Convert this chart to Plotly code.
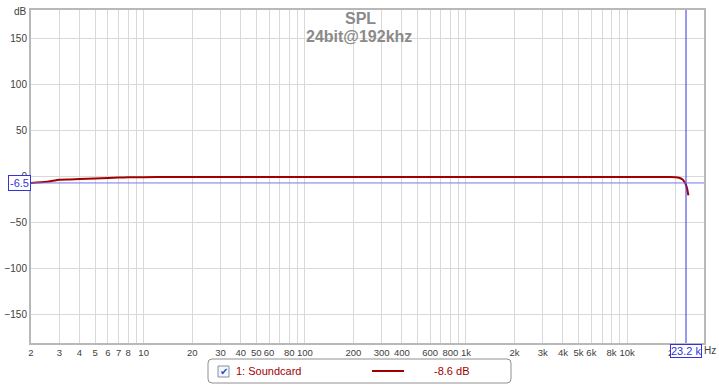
import math
import plotly.graph_objects as go

# ---- data ----
freq_hz = [2, 2.5, 3, 3.5, 4, 5, 6, 7, 8, 10, 15, 20, 50, 100, 1000, 3000, 4000,
           10000, 15000, 18000, 20000, 21000, 22000, 22500, 23200, 23600, 24000]
spl_db = [-6.5, -5.3, -3.0, -2.7, -2.3, -1.6, -1.1, -0.6, -0.4, -0.2, -0.1, 0.0, 0.0,
          0.0, 0.0, 0.0, 0.0, 0.0, 0.0, -0.1, -0.2, -0.8, -2.5, -4.5, -8.6, -13.0, -20.0]
series_name = "1: Soundcard"
cursor_freq = 23200
cursor_db = -6.5
cursor_value_text = "-8.6 dB"
title_lines = ["SPL", "24bit@192khz"]

x_tick_vals = [2, 3, 4, 5, 6, 7, 8, 9, 10, 20, 30, 40, 50, 60, 70, 80, 90, 100,
               200, 300, 400, 500, 600, 700, 800, 900, 1000,
               2000, 3000, 4000, 5000, 6000, 7000, 8000, 9000, 10000, 20000, 30000]
x_tick_text = ["2", "3", "4", "5", "6", "7", "8", "", "10", "20", "30", "40", "50", "60", "", "80", "", "100",
               "200", "300", "400", "", "600", "", "800", "", "1k",
               "2k", "3k", "4k", "5k", "6k", "", "8k", "", "10k", "20k", ""]
y_tick_vals = [-150, -100, -50, 0, 50, 100, 150]

RED = "#a00000"
BLUE = "#3333dd"
GRID = "#d9d9d9"
TXT = "#404040"
FONT = "Liberation Sans"

fig = go.Figure()
fig.add_trace(go.Scatter(x=freq_hz, y=spl_db, mode="lines",
                         line=dict(color=RED, width=2, shape="spline", smoothing=0.6),
                         name=series_name, showlegend=False, hoverinfo="skip"))

# cursor lines
fig.add_shape(type="line", xref="x", yref="paper", x0=cursor_freq, x1=cursor_freq,
              y0=0, y1=1, line=dict(color=BLUE, width=1))
fig.add_shape(type="line", xref="paper", yref="y", x0=0, x1=1, y0=cursor_db, y1=cursor_db,
              line=dict(color="#7777ee", width=1))

W_PLOT = 673.0
H_PLOT = 333.0
def px_x(p):
    return (p - 31) / W_PLOT
def px_y(p):
    return (343 - p) / H_PLOT

# legend box (rounded)
x0, x1, y0, y1 = px_x(208), px_x(511), px_y(383), px_y(359)
rx, ry = 4 / W_PLOT, 4 / H_PLOT
path = (f"M {x0+rx},{y0} L {x1-rx},{y0} Q {x1},{y0} {x1},{y0+ry} L {x1},{y1-ry} "
        f"Q {x1},{y1} {x1-rx},{y1} L {x0+rx},{y1} Q {x0},{y1} {x0},{y1-ry} "
        f"L {x0},{y0+ry} Q {x0},{y0} {x0+rx},{y0} Z")
fig.add_shape(type="path", xref="paper", yref="paper", path=path,
              line=dict(color="#909090", width=1), fillcolor="white")
# checkbox
fig.add_shape(type="rect", xref="paper", yref="paper",
              x0=px_x(218), x1=px_x(229), y0=px_y(377), y1=px_y(366),
              line=dict(color="#8090a8", width=1), fillcolor="#f4f6fa")
# legend line sample
fig.add_shape(type="line", xref="paper", yref="paper",
              x0=px_x(372), x1=px_x(404), y0=px_y(371), y1=px_y(371),
              line=dict(color=RED, width=2))

ann = []
ann.append(dict(xref="paper", yref="paper", x=px_x(223.5), y=px_y(371), text="✔",
                showarrow=False, font=dict(family="DejaVu Sans", size=10, color="#2a4fbf"),
                xanchor="center", yanchor="middle"))
ann.append(dict(xref="paper", yref="paper", x=px_x(234), y=px_y(371), text=series_name,
                showarrow=False, font=dict(family=FONT, size=11, color=RED),
                xanchor="left", yanchor="middle"))
ann.append(dict(xref="paper", yref="paper", x=px_x(471), y=px_y(371), text=cursor_value_text,
                showarrow=False, font=dict(family=FONT, size=11, color=RED),
                xanchor="right", yanchor="middle"))
# title
ann.append(dict(xref="paper", yref="paper", x=px_x(360), y=px_y(18), text=f"<b>{title_lines[0]}</b>",
                showarrow=False, font=dict(family=FONT, size=16, color="#8a8a8a"),
                xanchor="center", yanchor="middle"))
ann.append(dict(xref="paper", yref="paper", x=px_x(359), y=px_y(36), text=f"<b>{title_lines[1]}</b>",
                showarrow=False, font=dict(family=FONT, size=16, color="#8a8a8a"),
                xanchor="center", yanchor="middle"))
# axis unit labels
ann.append(dict(xref="paper", yref="paper", x=px_x(20), y=px_y(12), text="dB",
                showarrow=False, font=dict(family=FONT, size=10, color=TXT),
                xanchor="center", yanchor="middle"))
ann.append(dict(xref="paper", yref="paper", x=px_x(718), y=px_y(351), text="Hz",
                showarrow=False, font=dict(family=FONT, size=10, color=TXT),
                xanchor="right", yanchor="middle"))
# cursor readouts
ann.append(dict(xref="paper", yref="y", x=px_x(31), y=cursor_db, text=f"{cursor_db:g}",
                showarrow=False, font=dict(family=FONT, size=11, color=BLUE),
                xanchor="right", yanchor="middle", bgcolor="white",
                bordercolor=BLUE, borderwidth=1, borderpad=1))
ann.append(dict(xref="x", yref="paper", x=math.log10(cursor_freq), y=px_y(344),
                text=f"{cursor_freq/1000:g} k", showarrow=False,
                font=dict(family=FONT, size=11, color=BLUE),
                xanchor="center", yanchor="top", bgcolor="white",
                bordercolor=BLUE, borderwidth=1, borderpad=0))

fig.update_layout(
    width=719, height=385,
    margin=dict(l=31, r=15, t=10, b=42, autoexpand=False),
    paper_bgcolor="white", plot_bgcolor="white",
    font=dict(family=FONT, size=10, color=TXT),
    showlegend=False,
    annotations=ann,
)
fig.update_xaxes(type="log", range=[math.log10(2), math.log10(30000)],
                 tickvals=x_tick_vals, ticktext=x_tick_text, ticks="", automargin=False,
                 tickangle=0,
                 showgrid=True, gridcolor=GRID, gridwidth=1,
                 showline=True, linecolor="#b8b8b8", linewidth=2, mirror=True,
                 zeroline=False, tickfont=dict(family=FONT, size=9.5, color=TXT))
fig.update_yaxes(range=[-180.5, 181.5], tickvals=y_tick_vals, ticks="", automargin=False,
                 showgrid=True, gridcolor=GRID, gridwidth=1,
                 showline=True, linecolor="#b8b8b8", linewidth=2, mirror=True,
                 zeroline=False, tickfont=dict(family=FONT, size=10, color=TXT))

fig.write_html("out.html", config={"displayModeBar": False},
               post_script="document.body.style.margin='0';document.body.style.overflow='hidden';")
